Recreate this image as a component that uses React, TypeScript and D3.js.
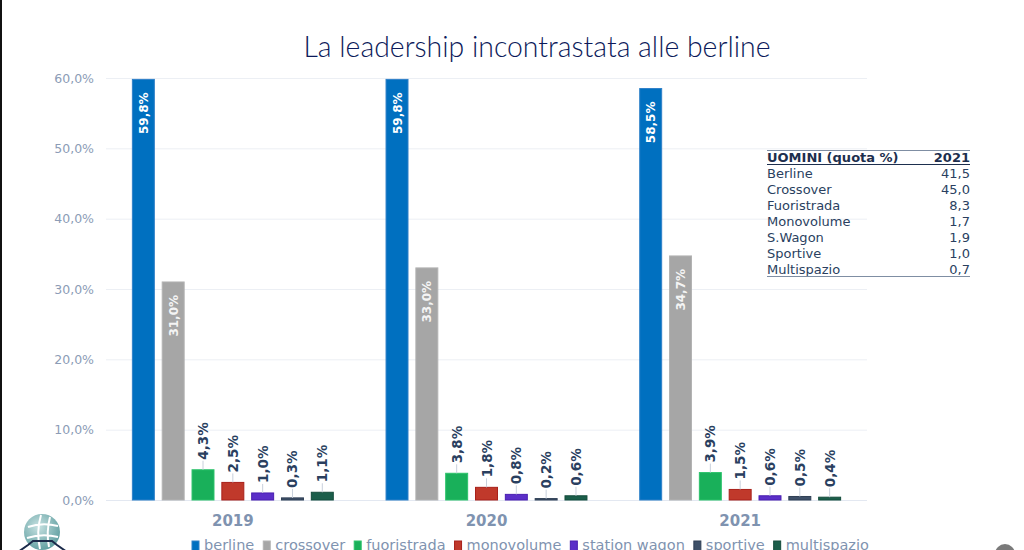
import { useEffect, useRef } from 'react';
import * as d3 from 'd3';

const years = ['2019', '2020', '2021'];
const seriesNames = ['berline', 'crossover', 'fuoristrada', 'monovolume', 'station wagon', 'sportive', 'multispazio'];
const berline = [59.8, 59.8, 58.5];
const crossover = [31.0, 33.0, 34.7];
const fuoristrada = [4.3, 3.8, 3.9];
const monovolume = [2.5, 1.8, 1.5];
const stationWagon = [1.0, 0.8, 0.6];
const sportive = [0.3, 0.2, 0.5];
const multispazio = [1.1, 0.6, 0.4];
const yTicks = [0, 10, 20, 30, 40, 50, 60];

const tableRows = ['Berline', 'Crossover', 'Fuoristrada', 'Monovolume', 'S.Wagon', 'Sportive', 'Multispazio'];
const tableValues = ['41,5', '45,0', '8,3', '1,7', '1,9', '1,0', '0,7'];

const seriesValues = [berline, crossover, fuoristrada, monovolume, stationWagon, sportive, multispazio];
const fills = ['#0070c0', '#a6a6a6', '#19b05a', '#c0392b', '#5b2fc8', '#3e5068', '#1b5e4a'];
const strokes = ['#2f80c8', '#b3b3b3', '#2cc36b', '#a8201a', '#4a1fb0', '#2f3f55', '#154c3c'];

const W = 1024;
const H = 550;
const FONT = "'DejaVu Sans', Verdana, sans-serif";

const fmt = (v: number) => v.toFixed(1).replace('.', ',') + '%';

export default function App() {
  const svgRef = useRef<SVGSVGElement>(null);

  useEffect(() => {
    if (!svgRef.current) return;
    const svg = d3.select(svgRef.current);
    svg.selectAll('*').remove();

    const left = 106, right = 867, top = 78, bottom = 500;

    const x0 = d3.scaleBand<string>().domain(years).range([left, right]).paddingInner(0.204).paddingOuter(0.102);
    const x1 = d3.scaleBand<string>().domain(seriesNames).range([0, x0.bandwidth()]).paddingInner(0.23);
    const y = d3.scaleLinear().domain([0, 60]).range([bottom, top]);

    // bordo sinistro
    svg.append('rect').attr('x', 0).attr('y', 0).attr('width', 2).attr('height', H).attr('fill', '#111');

    // titolo
    svg.append('text')
      .attr('x', 537).attr('y', 57)
      .attr('text-anchor', 'middle')
      .attr('font-family', "Lato, 'Open Sans', sans-serif")
      .attr('font-weight', 300)
      .attr('font-size', 29)
      .attr('fill', '#0c1a5a')
      .attr('textLength', 467)
      .attr('lengthAdjust', 'spacingAndGlyphs')
      .text('La leadership incontrastata alle berline');

    // griglia
    svg.append('g').selectAll('line').data(yTicks).join('line')
      .attr('x1', left).attr('x2', right)
      .attr('y1', d => y(d) + 0.5).attr('y2', d => y(d) + 0.5)
      .attr('stroke', d => d === 0 ? '#e3e8f1' : '#eceff4')
      .attr('stroke-width', 1);

    svg.append('g').selectAll('text').data(yTicks).join('text')
      .attr('x', 94).attr('y', d => y(d) + 4.5)
      .attr('text-anchor', 'end')
      .attr('font-family', FONT).attr('font-size', 12.5)
      .attr('fill', '#8c9cb6')
      .text(d => fmt(d));

    // anni
    svg.append('g').selectAll('text').data(years).join('text')
      .attr('x', d => (x0(d) as number) + x0.bandwidth() / 2)
      .attr('y', 526)
      .attr('text-anchor', 'middle')
      .attr('font-family', FONT).attr('font-weight', 'bold').attr('font-size', 15)
      .attr('fill', '#7f93b0')
      .text(d => d);

    // barre
    seriesNames.forEach((name, si) => {
      const g = svg.append('g');
      years.forEach((yr, yi) => {
        const v = seriesValues[si][yi];
        const bx = (x0(yr) as number) + (x1(name) as number);
        const bw = x1.bandwidth();
        const cx = bx + bw / 2;
        g.append('rect')
          .attr('x', bx + 0.5).attr('y', y(v))
          .attr('width', bw - 1).attr('height', Math.max(0.5, bottom - y(v)))
          .attr('fill', fills[si])
          .attr('stroke', strokes[si]).attr('stroke-width', 1);
        if (si < 2) {
          g.append('text')
            .attr('transform', `translate(${cx + 4.5},${y(v) + 13}) rotate(-90)`)
            .attr('text-anchor', 'end')
            .attr('font-family', FONT).attr('font-weight', 'bold').attr('font-size', 12)
            .attr('fill', si === 0 ? '#ffffff' : '#f4f4f4')
            .text(fmt(v));
        } else {
          const gap = 9;
          g.append('line')
            .attr('x1', cx).attr('x2', cx)
            .attr('y1', y(v)).attr('y2', y(v) - gap)
            .attr('stroke', '#c8d0dc').attr('stroke-width', 1);
          g.append('text')
            .attr('transform', `translate(${cx + 5},${y(v) - gap - 1}) rotate(-90)`)
            .attr('text-anchor', 'start')
            .attr('font-family', FONT).attr('font-weight', 'bold').attr('font-size', 13.5)
            .attr('fill', '#2a3f5f')
            .text(fmt(v));
        }
      });
    });

    // legenda
    const legend = svg.append('g');
    let lx = 192;
    seriesNames.forEach((name, i) => {
      legend.append('rect')
        .attr('x', lx).attr('y', 541).attr('width', 7).attr('height', 12)
        .attr('fill', fills[i]).attr('stroke', strokes[i]);
      const t = legend.append('text')
        .attr('x', lx + 12).attr('y', 550)
        .attr('font-family', FONT).attr('font-size', 14.5)
        .attr('fill', '#7f93b0')
        .text(name);
      const tw = (t.node() as SVGTextElement).getComputedTextLength();
      lx += 12 + tw + 9;
    });

    // tabella
    const tx0 = 767, tx1 = 970;
    const table = svg.append('g').attr('font-family', FONT).attr('font-size', 13).attr('fill', '#2a3f5f');
    table.append('line').attr('x1', tx0).attr('x2', tx1).attr('y1', 150.5).attr('y2', 150.5).attr('stroke', '#7f8ea3');
    table.append('text').attr('x', tx0).attr('y', 162).attr('font-weight', 'bold').attr('fill', '#1d2f4e').text('UOMINI (quota %)');
    table.append('text').attr('x', tx1).attr('y', 162).attr('text-anchor', 'end').attr('font-weight', 'bold').attr('fill', '#1d2f4e').text('2021');
    table.append('line').attr('x1', tx0).attr('x2', tx1).attr('y1', 164.5).attr('y2', 164.5).attr('stroke', '#1d2f4e');
    tableRows.forEach((r, i) => {
      const ry = 178 + i * 16;
      table.append('text').attr('x', tx0).attr('y', ry).text(r);
      table.append('text').attr('x', tx1).attr('y', ry).attr('text-anchor', 'end').text(tableValues[i]);
    });
    table.append('line').attr('x1', tx0).attr('x2', tx1).attr('y1', 276.5).attr('y2', 276.5).attr('stroke', '#7f8ea3');

    // logo
    const defs = svg.append('defs');
    const grad = defs.append('radialGradient').attr('id', 'globe').attr('cx', '40%').attr('cy', '35%').attr('r', '70%');
    grad.append('stop').attr('offset', '0%').attr('stop-color', '#c8e2e2');
    grad.append('stop').attr('offset', '100%').attr('stop-color', '#5c9c9e');
    const logo = svg.append('g');
    logo.append('circle').attr('cx', 42).attr('cy', 532).attr('r', 18).attr('fill', 'url(#globe)');
    logo.append('path').attr('d', 'M28,527 Q42,522 58,526 M27,538 Q42,533 58,537 M41,515 Q36,532 40,549 M50,517 Q46,532 49,547')
      .attr('fill', 'none').attr('stroke', '#ffffff').attr('stroke-width', 2);
    logo.append('path').attr('d', 'M18,552 L28,545 L33,541 L52,541 L57,545 L67,552')
      .attr('fill', 'none').attr('stroke', '#1b2a4a').attr('stroke-width', 2);

    // pallino in basso a destra
    svg.append('circle').attr('cx', 1005).attr('cy', 554).attr('r', 10).attr('fill', '#7a7a7a');
  }, []);

  return (
    <svg ref={svgRef} width={W} height={H}
      style={{ display: 'block', position: 'absolute', left: 0, top: 0, background: '#fff' }} />
  );
}
